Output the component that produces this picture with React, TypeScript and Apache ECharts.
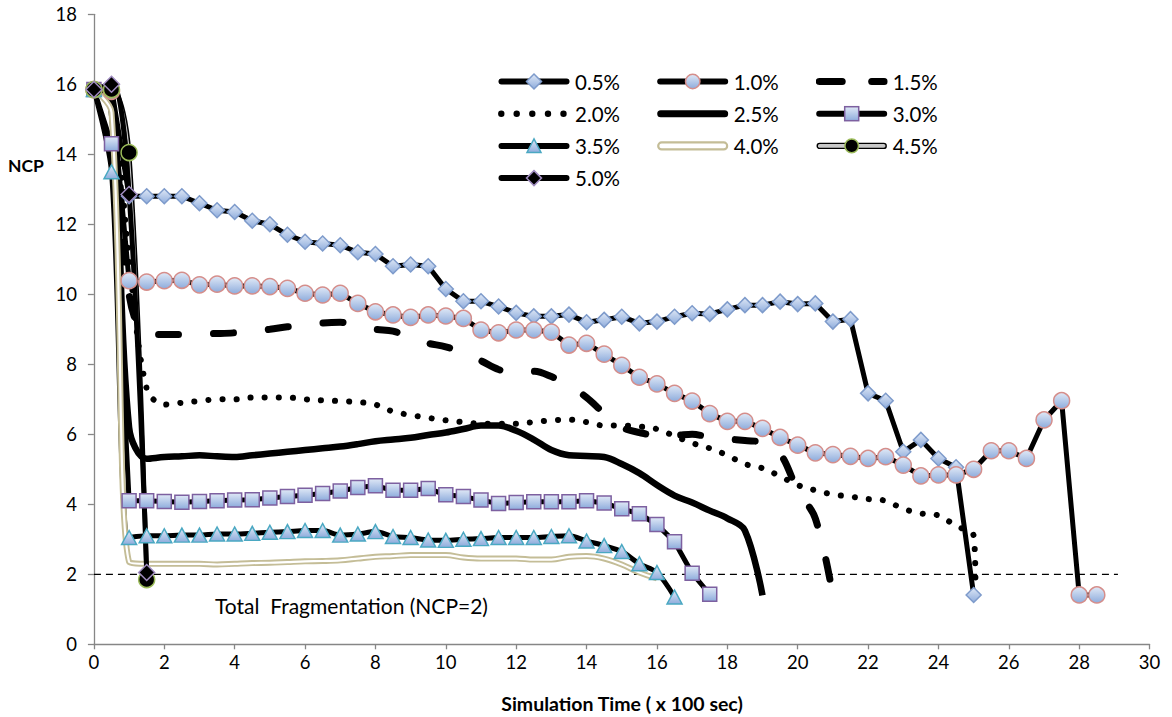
import React, { useEffect, useRef } from "react";
import * as echarts from "echarts";

// ---------- data ----------
const TIME = [
  0, 0.5, 1, 1.5, 2, 2.5, 3, 3.5, 4, 4.5, 5, 5.5, 6, 6.5, 7, 7.5, 8, 8.5, 9, 9.5,
  10, 10.5, 11, 11.5, 12, 12.5, 13, 13.5, 14, 14.5, 15, 15.5, 16, 16.5, 17, 17.5,
  18, 18.5, 19, 19.5, 20, 20.5, 21, 21.5, 22, 22.5, 23, 23.5, 24, 24.5, 25, 25.5,
  26, 26.5, 27, 27.5, 28, 28.5,
];

const NCP_05 = [
  15.85, 15.9, 12.8, 12.8, 12.8, 12.8, 12.6, 12.4, 12.35, 12.1, 12.0, 11.7, 11.5,
  11.45, 11.4, 11.2, 11.15, 10.8, 10.85, 10.8, 10.15, 9.8, 9.8, 9.65, 9.47, 9.37,
  9.37, 9.42, 9.2, 9.27, 9.36, 9.17, 9.22, 9.36, 9.46, 9.44, 9.57, 9.69, 9.69,
  9.79, 9.72, 9.74, 9.22, 9.29, 7.17, 6.96, 5.5, 5.84, 5.31, 5.06, 1.41,
];
const NCP_10 = [
  15.85, 15.8, 10.39, 10.35, 10.39, 10.4, 10.27, 10.29, 10.24, 10.24, 10.22,
  10.17, 10.03, 9.98, 10.03, 9.74, 9.5, 9.41, 9.34, 9.41, 9.38, 9.31, 8.98, 8.9,
  8.98, 8.98, 8.92, 8.55, 8.6, 8.29, 7.97, 7.63, 7.44, 7.17, 6.95, 6.59, 6.37,
  6.37, 6.17, 5.91, 5.69, 5.47, 5.42, 5.37, 5.31, 5.36, 5.12, 4.81, 4.84, 4.84,
  5.0, 5.53, 5.53, 5.31, 6.41, 6.96, 1.41, 1.41,
];
const NCP_15 = [
  15.85, 15.6, 10.0, 8.85, 8.85, 8.85, 8.87, 8.88, 8.9, 8.95, 9.0, 9.07, 9.12,
  9.18, 9.2, 9.1, 9.0, 8.95, 8.75, 8.6, 8.5, 8.32, 8.1, 7.85, 7.75, 7.8, 7.65,
  7.4, 7.05, 6.6, 6.2, 6.05, 5.97, 5.97, 6.0, 5.92, 5.87, 5.82, 5.77, 5.45, 4.4,
  3.6, 1.4,
];
const NCP_20 = [
  15.85, 15.5, 11.0, 7.3, 6.85, 6.9, 6.95, 7.0, 7.0, 7.05, 7.05, 7.05, 7.0, 6.97,
  6.95, 6.92, 6.85, 6.65, 6.55, 6.47, 6.4, 6.35, 6.3, 6.3, 6.3, 6.35, 6.4, 6.42,
  6.35, 6.25, 6.25, 6.22, 6.15, 5.95, 5.75, 5.6, 5.4, 5.15, 5.03, 4.8, 4.55, 4.4,
  4.28, 4.22, 4.15, 4.1, 3.87, 3.74, 3.68, 3.38, 3.1,
];
const NCP_20_END_TIME = 25.05;
const NCP_20_END = 1.85;
const NCP_25 = [
  15.85, 15.3, 6.2, 5.3, 5.35, 5.37, 5.4, 5.37, 5.35, 5.4, 5.45, 5.5, 5.55, 5.6,
  5.65, 5.72, 5.8, 5.85, 5.9, 5.98, 6.05, 6.15, 6.25, 6.25, 6.1, 5.85, 5.55, 5.4,
  5.38, 5.35, 5.15, 4.89, 4.55, 4.25, 4.05, 3.82, 3.6, 3.25, 1.4,
];
const NCP_30 = [
  15.85, 14.3, 4.1, 4.1, 4.08, 4.06, 4.08, 4.1, 4.12, 4.13, 4.18, 4.22, 4.26,
  4.31, 4.38, 4.48, 4.53, 4.4, 4.4, 4.45, 4.27, 4.22, 4.12, 4.02, 4.05, 4.07,
  4.07, 4.07, 4.1, 4.04, 3.87, 3.73, 3.42, 2.93, 2.03, 1.43,
];
const NCP_35 = [
  15.85, 13.5, 3.05, 3.1, 3.1, 3.12, 3.12, 3.15, 3.15, 3.17, 3.2, 3.22, 3.25,
  3.25, 3.12, 3.15, 3.22, 3.08, 3.05, 2.98, 2.97, 3.0, 3.02, 3.05, 3.05, 3.05,
  3.08, 3.1, 2.95, 2.82, 2.65, 2.3, 2.05, 1.35,
];
const NCP_40 = [
  15.85, 15.2, 2.35, 2.3, 2.3, 2.3, 2.3, 2.28, 2.3, 2.32, 2.33, 2.35, 2.37, 2.38,
  2.4, 2.45, 2.5, 2.52, 2.55, 2.55, 2.55, 2.48, 2.45, 2.45, 2.45, 2.42, 2.42, 2.5,
  2.52, 2.45, 2.28, 2.05, 1.88,
];
const NCP_45 = [15.85, 15.85, 14.05, 1.85];
const NCP_50 = [15.85, 16.0, 12.85, 2.05];

const SERIES_NAMES = ["0.5%", "1.0%", "1.5%", "2.0%", "2.5%", "3.0%", "3.5%", "4.0%", "4.5%", "5.0%"];
const LEGEND_COLUMNS = [
  ["0.5%", "2.0%", "3.5%", "5.0%"],
  ["1.0%", "2.5%", "4.0%"],
  ["1.5%", "3.0%", "4.5%"],
];

const X_MIN = 0, X_MAX = 30, X_STEP = 2;
const Y_MIN = 0, Y_MAX = 18, Y_STEP = 2;
const REF_NCP = 2;
const REF_SPAN = [-0.34, 29.1];
const REF_LABEL = "Total  Fragmentation (NCP=2)";
const X_TITLE = "Simulation Time ( x 100 sec)";
const Y_TITLE = "NCP";

// ---------- styling helpers ----------
const FONT = "Lato";
const GRAD = '<defs><linearGradient id="g" x1="0" y1="0" x2="0" y2="1"><stop offset="0" stop-color="#dfe8f6"/><stop offset="1" stop-color="#8eacdc"/></linearGradient></defs>';
const icon = (body: string) =>
  "image://data:image/svg+xml;charset=utf-8," +
  encodeURIComponent(
    `<svg xmlns="http://www.w3.org/2000/svg" width="72" height="20" viewBox="0 0 72 20">${GRAD}${body}</svg>`
  );
const solid = (w: number) =>
  `<line x1="${w / 2 + 0.5}" y1="10" x2="${71.5 - w / 2}" y2="10" stroke="#000" stroke-width="${w}" stroke-linecap="round"/>`;

const ICONS: Record<string, string> = {
  "0.5%": icon(solid(6) + '<polygon points="36,2.5 43.5,10 36,17.5 28.5,10" fill="url(#g)" stroke="#7e9bcb" stroke-width="1.5"/>'),
  "1.0%": icon(solid(6) + '<circle cx="36" cy="10" r="7.2" fill="url(#g)" stroke="#d58e8b" stroke-width="1.5"/>'),
  "1.5%": icon('<line x1="3.5" y1="10" x2="26.5" y2="10" stroke="#000" stroke-width="7" stroke-linecap="round"/><line x1="56" y1="10" x2="68.5" y2="10" stroke="#000" stroke-width="7" stroke-linecap="round"/>'),
  "2.0%": icon([3.3, 18.7, 34.3, 50, 65.5].map((c) => `<circle cx="${c}" cy="10" r="3.2"/>`).join("")),
  "2.5%": icon(solid(7)),
  "3.0%": icon(solid(6) + '<rect x="29" y="3" width="14" height="14" fill="url(#g)" stroke="#7d60a0" stroke-width="1.5"/>'),
  "3.5%": icon(solid(6) + '<polygon points="36,3 43,16.5 29,16.5" fill="url(#g)" stroke="#4aa8c2" stroke-width="1.5"/>'),
  "4.0%": icon('<rect x="1.5" y="6.5" width="69" height="7" rx="3.5" fill="#fff" stroke="#c4bd97" stroke-width="2.2"/>'),
  "4.5%": icon('<rect x="1.5" y="7.5" width="69" height="5" rx="2.5" fill="#c8c8c8" stroke="#000" stroke-width="1.4"/><circle cx="36" cy="10" r="6.8" fill="#000" stroke="#9bbb59" stroke-width="1.5"/>'),
  "5.0%": icon(solid(6) + '<polygon points="36,2.5 43.5,10 36,17.5 28.5,10" fill="#000" stroke="#a08cc0" stroke-width="1.5"/>'),
};

const pts = (vals: number[]) => vals.map((v, i) => [TIME[i], v]);
const blueFill = () =>
  new echarts.graphic.LinearGradient(0, 0, 0, 1, [
    { offset: 0, color: "#dfe8f6" },
    { offset: 1, color: "#8eacdc" },
  ]);

function buildOption() {
  const base = { type: "line", animation: false, silent: true, emphasis: { disabled: true } };
  const series: any[] = [
    {
      ...base, name: "ref", data: [[REF_SPAN[0], REF_NCP], [REF_SPAN[1], REF_NCP]],
      symbol: "none", clip: false, lineStyle: { color: "#000", width: 1.3, type: [7, 5] },
    },
    {
      ...base, name: SERIES_NAMES[0], data: pts(NCP_05), symbol: "diamond", symbolSize: 15,
      lineStyle: { color: "#000", width: 5 },
      itemStyle: { color: blueFill(), borderColor: "#7e9bcb", borderWidth: 1.5 },
    },
    {
      ...base, name: SERIES_NAMES[1], data: pts(NCP_10), symbol: "circle", symbolSize: 16,
      lineStyle: { color: "#000", width: 5 },
      itemStyle: { color: blueFill(), borderColor: "#d58e8b", borderWidth: 1.5 },
    },
    {
      ...base, name: SERIES_NAMES[2], data: pts(NCP_15), symbol: "none", smooth: 0.35,
      lineStyle: { color: "#000", width: 7, type: [20, 35], cap: "round" },
    },
    {
      ...base, name: SERIES_NAMES[3], data: pts(NCP_20).concat([[NCP_20_END_TIME, NCP_20_END]]),
      symbol: "none", smooth: 0.35,
      lineStyle: { color: "#000", width: 6, type: [0.1, 14], cap: "round" },
    },
    {
      ...base, name: SERIES_NAMES[4], data: pts(NCP_25), symbol: "none", smooth: 0.35,
      lineStyle: { color: "#000", width: 6.5 },
    },
    {
      ...base, name: SERIES_NAMES[5], data: pts(NCP_30), symbol: "rect", symbolSize: 14,
      lineStyle: { color: "#000", width: 5 },
      itemStyle: { color: blueFill(), borderColor: "#7d60a0", borderWidth: 1.5 },
    },
    {
      ...base, name: SERIES_NAMES[6], data: pts(NCP_35), symbol: "triangle", symbolSize: [15, 14],
      smooth: 0.3, lineStyle: { color: "#000", width: 5 },
      itemStyle: { color: blueFill(), borderColor: "#4aa8c2", borderWidth: 1.5 },
    },
    {
      ...base, name: SERIES_NAMES[7], data: pts(NCP_40), symbol: "none", smooth: 0.35,
      lineStyle: { color: "#c4bd97", width: 6 },
    },
    {
      ...base, name: "4.0% inner", data: pts(NCP_40), symbol: "none", smooth: 0.35,
      lineStyle: { color: "#ffffff", width: 2.2 },
    },
    {
      ...base, name: SERIES_NAMES[8], data: pts(NCP_45), symbol: "none", smooth: 0.35,
      lineStyle: { color: "#000", width: 4.5 },
    },
    {
      ...base, name: "4.5% inner", data: pts(NCP_45), symbol: "none", smooth: 0.35,
      lineStyle: { color: "#c8c8c8", width: 1.4 },
    },
    {
      ...base, name: "4.5% markers", data: pts(NCP_45), symbol: "circle", symbolSize: 16,
      lineStyle: { width: 0, opacity: 0 },
      itemStyle: { color: "#000", borderColor: "#9bbb59", borderWidth: 1.5 },
    },
    {
      ...base, name: SERIES_NAMES[9], data: pts(NCP_50), symbol: "diamond", symbolSize: 16,
      smooth: 0.35, lineStyle: { color: "#000", width: 5 },
      itemStyle: { color: "#000", borderColor: "#a08cc0", borderWidth: 1.5 },
    },
  ];

  const legendLefts = [498, 656.7, 815.7];
  const legend = LEGEND_COLUMNS.map((col, i) => ({
    orient: "vertical",
    left: legendLefts[i],
    top: 71,
    padding: 0,
    itemWidth: 72,
    itemHeight: 20,
    itemGap: 11.2,
    selectedMode: false,
    textStyle: { fontFamily: FONT, fontSize: 20.5, color: "#000" },
    data: col.map((name) => ({ name, icon: ICONS[name] })),
  }));

  const axisColor = "#868686";
  return {
    animation: false,
    backgroundColor: "#fff",
    grid: { left: 93.9, right: 22.4, top: 14.3, bottom: 72.7, containLabel: false },
    legend,
    xAxis: {
      type: "value", min: X_MIN, max: X_MAX, interval: X_STEP,
      axisLine: { show: true, onZero: false, lineStyle: { color: axisColor, width: 1.3 } },
      axisTick: { show: true, length: 5, lineStyle: { color: axisColor, width: 1.3 } },
      axisLabel: { fontFamily: FONT, fontSize: 18.5, color: "#000", margin: 8 },
      splitLine: { show: false },
    },
    yAxis: {
      type: "value", min: Y_MIN, max: Y_MAX, interval: Y_STEP,
      axisLine: { show: true, onZero: false, lineStyle: { color: axisColor, width: 1.3 } },
      axisTick: { show: true, length: 6, lineStyle: { color: axisColor, width: 1.3 } },
      axisLabel: { fontFamily: FONT, fontSize: 18.5, color: "#000", margin: 17 },
      splitLine: { show: false },
    },
    graphic: [
      {
        type: "text", x: 26, y: 165, silent: true,
        style: { text: Y_TITLE, fontFamily: FONT, fontWeight: "bold", fontSize: 17.5, fill: "#000", align: "center", verticalAlign: "middle" },
      },
      {
        type: "text", x: 622, y: 703, silent: true,
        style: { text: X_TITLE, fontFamily: FONT, fontWeight: "bold", fontSize: 19.5, fill: "#000", align: "center", verticalAlign: "middle" },
      },
      {
        type: "text", x: 215, y: 605, silent: true,
        style: { text: REF_LABEL, fontFamily: FONT, fontSize: 21, fill: "#000", align: "left", verticalAlign: "middle" },
      },
    ],
    series,
  };
}

export default function App() {
  const ref = useRef<HTMLDivElement>(null);
  useEffect(() => {
    if (!ref.current) return;
    const chart = echarts.init(ref.current, null, { renderer: "svg" });
    chart.setOption(buildOption() as any);
    return () => chart.dispose();
  }, []);
  return (
    <div
      ref={ref}
      style={{ position: "fixed", left: 0, top: 0, width: 1172, height: 717, background: "#fff" }}
    />
  );
}
